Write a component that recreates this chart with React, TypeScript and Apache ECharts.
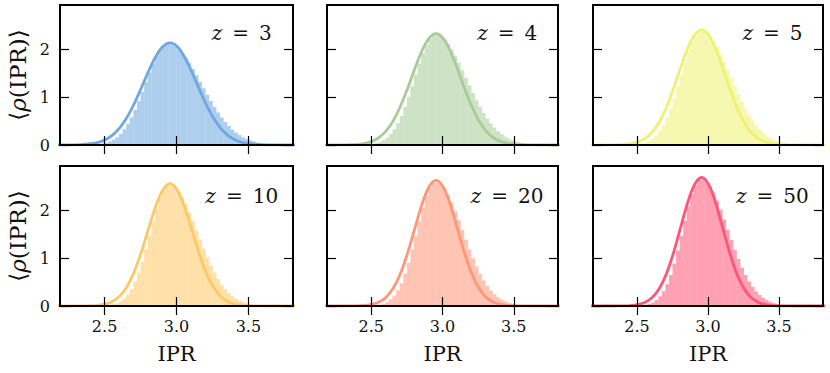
import React, { useEffect, useRef } from 'react';
import * as echarts from 'echarts';

// ---- data ----
const Z_VALUES = [3, 4, 5, 10, 20, 50];
const X_TICKS = [2.5, 3.0, 3.5];
const Y_TICKS = [0, 1, 2];

// Fitted curves sampled at x = 2.155, 2.205, ..., 3.855 (step 0.05)
const CURVE_X0 = 2.155;
const CURVE_STEP = 0.05;
const CURVE_Z3 = [0, 0.001, 0.002, 0.004, 0.011, 0.026, 0.056, 0.111, 0.206, 0.356, 0.572, 0.855, 1.188, 1.533, 1.84, 2.053, 2.13, 2.053, 1.84, 1.533, 1.188, 0.855, 0.572, 0.356, 0.206, 0.111, 0.056, 0.026, 0.011, 0.004, 0.002, 0.001, 0, 0, 0];
const CURVE_Z4 = [0, 0, 0.001, 0.002, 0.005, 0.014, 0.034, 0.076, 0.155, 0.293, 0.507, 0.807, 1.18, 1.586, 1.959, 2.224, 2.32, 2.224, 1.959, 1.586, 1.18, 0.807, 0.507, 0.293, 0.155, 0.076, 0.034, 0.014, 0.005, 0.002, 0.001, 0, 0, 0, 0];
const CURVE_Z5 = [0, 0, 0, 0.001, 0.004, 0.01, 0.026, 0.061, 0.132, 0.26, 0.469, 0.772, 1.161, 1.596, 2.002, 2.294, 2.4, 2.294, 2.002, 1.596, 1.161, 0.772, 0.469, 0.26, 0.132, 0.061, 0.026, 0.01, 0.004, 0.001, 0, 0, 0, 0, 0];
const CURVE_Z10 = [0, 0, 0, 0, 0.002, 0.005, 0.015, 0.04, 0.095, 0.206, 0.401, 0.706, 1.121, 1.606, 2.077, 2.422, 2.55, 2.422, 2.077, 1.606, 1.121, 0.706, 0.401, 0.206, 0.095, 0.04, 0.015, 0.005, 0.002, 0, 0, 0, 0, 0, 0];
const CURVE_Z20 = [0, 0, 0, 0, 0.001, 0.004, 0.012, 0.033, 0.082, 0.185, 0.374, 0.677, 1.102, 1.61, 2.11, 2.482, 2.62, 2.482, 2.11, 1.61, 1.102, 0.677, 0.374, 0.185, 0.082, 0.033, 0.012, 0.004, 0.001, 0, 0, 0, 0, 0, 0];
const CURVE_Z50 = [0, 0, 0, 0, 0.001, 0.003, 0.01, 0.028, 0.073, 0.17, 0.353, 0.656, 1.089, 1.615, 2.139, 2.533, 2.68, 2.533, 2.139, 1.615, 1.089, 0.656, 0.353, 0.17, 0.073, 0.028, 0.01, 0.003, 0.001, 0, 0, 0, 0, 0, 0];

// Histograms: bins of width 0.025 starting at 2.45
const BIN_START = 2.45;
const BIN_WIDTH = 0.025;
const HIST_Z3 = [0.02, 0.032, 0.05, 0.076, 0.113, 0.163, 0.23, 0.328, 0.441, 0.576, 0.735, 0.915, 1.11, 1.31, 1.511, 1.697, 1.86, 1.987, 2.069, 2.101, 2.091, 2.058, 2.0, 1.922, 1.826, 1.714, 1.59, 1.458, 1.321, 1.183, 1.047, 0.917, 0.793, 0.678, 0.572, 0.478, 0.394, 0.322, 0.259, 0.207, 0.162, 0.126, 0.097, 0.072, 0.054, 0.04, 0.029, 0.021, 0.015, 0.011];
const HIST_Z4 = [0.009, 0.015, 0.025, 0.041, 0.066, 0.102, 0.154, 0.233, 0.33, 0.456, 0.611, 0.795, 1.005, 1.233, 1.47, 1.701, 1.912, 2.087, 2.212, 2.278, 2.282, 2.252, 2.192, 2.104, 1.993, 1.864, 1.718, 1.563, 1.402, 1.242, 1.085, 0.935, 0.795, 0.667, 0.552, 0.45, 0.363, 0.289, 0.226, 0.175, 0.134, 0.097, 0.072, 0.053, 0.038, 0.027, 0.019, 0.013, 0.009, 0.006];
const HIST_Z5 = [0.006, 0.011, 0.019, 0.032, 0.053, 0.084, 0.131, 0.204, 0.297, 0.419, 0.573, 0.761, 0.978, 1.218, 1.471, 1.721, 1.951, 2.145, 2.283, 2.356, 2.361, 2.327, 2.26, 2.164, 2.042, 1.899, 1.741, 1.572, 1.4, 1.229, 1.062, 0.906, 0.761, 0.63, 0.514, 0.414, 0.328, 0.256, 0.198, 0.15, 0.112, 0.08, 0.058, 0.042, 0.029, 0.02, 0.014, 0.009, 0.006, 0.004];
const HIST_Z10 = [0.003, 0.006, 0.011, 0.019, 0.034, 0.058, 0.095, 0.156, 0.239, 0.354, 0.505, 0.696, 0.924, 1.186, 1.468, 1.753, 2.021, 2.249, 2.415, 2.502, 2.508, 2.467, 2.387, 2.272, 2.128, 1.96, 1.776, 1.583, 1.388, 1.196, 1.015, 0.848, 0.696, 0.562, 0.446, 0.349, 0.268, 0.203, 0.151, 0.111, 0.077, 0.054, 0.038, 0.026, 0.017, 0.012, 0.008, 0.005, 0.003, 0.002];
const HIST_Z20 = [0.002, 0.004, 0.008, 0.015, 0.028, 0.049, 0.082, 0.139, 0.217, 0.327, 0.476, 0.668, 0.9, 1.171, 1.466, 1.767, 2.052, 2.297, 2.475, 2.569, 2.576, 2.532, 2.446, 2.322, 2.166, 1.986, 1.791, 1.587, 1.381, 1.182, 0.994, 0.822, 0.668, 0.533, 0.418, 0.322, 0.244, 0.182, 0.134, 0.096, 0.066, 0.046, 0.031, 0.021, 0.014, 0.009, 0.006, 0.004, 0.002, 0.001];
const HIST_Z50 = [0.002, 0.003, 0.007, 0.013, 0.024, 0.042, 0.073, 0.125, 0.201, 0.308, 0.455, 0.646, 0.883, 1.159, 1.465, 1.779, 2.079, 2.337, 2.527, 2.628, 2.634, 2.588, 2.495, 2.364, 2.199, 2.01, 1.805, 1.591, 1.378, 1.171, 0.978, 0.802, 0.646, 0.511, 0.397, 0.303, 0.228, 0.168, 0.121, 0.086, 0.058, 0.04, 0.027, 0.018, 0.011, 0.007, 0.005, 0.003, 0.002, 0.001];

const CURVES = [CURVE_Z3, CURVE_Z4, CURVE_Z5, CURVE_Z10, CURVE_Z20, CURVE_Z50];
const HISTS = [HIST_Z3, HIST_Z4, HIST_Z5, HIST_Z10, HIST_Z20, HIST_Z50];
const LINE_COLORS = ['#6fa8e0', '#a8cc98', '#eef26e', '#ffc864', '#ff9678', '#ff5578'];

// ---- layout ----
const X_MIN = 2.19;
const X_MAX = 3.81;
const Y_MAX = 2.92;
const COLS = [
  { left: 60, width: 233 },
  { left: 327, width: 231 },
  { left: 593, width: 230 },
];
const ROWS = [
  { top: 5, height: 140 },
  { top: 166, height: 140 },
];
const FONT = 'DejaVu Serif';

function blendWithWhite(hex: string, a: number) {
  const n = parseInt(hex.slice(1), 16);
  const ch = [(n >> 16) & 255, (n >> 8) & 255, n & 255].map((v) => Math.round(255 - a * (255 - v)));
  return `rgb(${ch[0]},${ch[1]},${ch[2]})`;
}

export default function App() {
  const ref = useRef<HTMLDivElement>(null);
  useEffect(() => {
    const chart = echarts.init(ref.current!, null, { renderer: 'svg' });
    const grid: any[] = [];
    const xAxis: any[] = [];
    const yAxis: any[] = [];
    const series: any[] = [];
    const graphic: any[] = [];

    const tickStyle = { color: '#000', width: 1.2 };
    for (let p = 0; p < 6; p++) {
      const r = Math.floor(p / 3);
      const c = p % 3;
      const g = { left: COLS[c].left, width: COLS[c].width, top: ROWS[r].top, height: ROWS[r].height };
      grid.push({ ...g, show: true, borderColor: '#000', borderWidth: 2, backgroundColor: 'transparent', z: 6 });
      const baseX = {
        gridIndex: p, type: 'value', min: X_MIN, max: X_MAX, z: 6,
        axisLine: { show: false }, splitLine: { show: false },
        axisTick: { show: true, inside: true, length: 9, customValues: X_TICKS, lineStyle: tickStyle },
      };
      xAxis.push({
        ...baseX, position: 'bottom',
        axisLabel: {
          show: r === 1, customValues: X_TICKS, margin: 12,
          formatter: (v: number) => v.toFixed(1),
          fontFamily: FONT, fontSize: 16, color: '#111',
        },
      });
      xAxis.push({ ...baseX, position: 'top', axisLabel: { show: false } });
      const baseY = {
        gridIndex: p, type: 'value', min: 0, max: Y_MAX, z: 6,
        axisLine: { show: false }, splitLine: { show: false },
        axisTick: { show: true, inside: true, length: 9, customValues: Y_TICKS, lineStyle: tickStyle },
      };
      yAxis.push({
        ...baseY, position: 'left',
        axisLabel: {
          show: c === 0, customValues: Y_TICKS, margin: 10,
          fontFamily: FONT, fontSize: 16, color: '#111',
        },
      });
      yAxis.push({ ...baseY, position: 'right', axisLabel: { show: false } });

      const color = LINE_COLORS[p];
      const fill = blendWithWhite(color, 0.56);
      const histData = HISTS[p].map((v, k) => [BIN_START + k * BIN_WIDTH, BIN_START + (k + 1) * BIN_WIDTH, v]);
      series.push({
        type: 'custom',
        xAxisIndex: 2 * p, yAxisIndex: 2 * p,
        z: 2,
        clip: true,
        data: histData,
        renderItem: (params: any, api: any) => {
          const a = api.coord([api.value(0), 0]);
          const b = api.coord([api.value(1), api.value(2)]);
          return {
            type: 'rect',
            shape: { x: a[0], y: b[1], width: b[0] - a[0] + 0.4, height: a[1] - b[1] },
            style: { fill },
          };
        },
      });
      series.push({
        type: 'line',
        xAxisIndex: 2 * p, yAxisIndex: 2 * p,
        z: 3,
        data: CURVES[p].map((v, i) => [CURVE_X0 + i * CURVE_STEP, v]),
        smooth: 0.35,
        showSymbol: false,
        clip: true,
        lineStyle: { color, width: 2.8 },
      });

      graphic.push({
        type: 'text',
        x: g.left + 0.78 * g.width,
        y: g.top + (r === 0 ? 28 : 30),
        style: {
          text: `{i|z}\u2002=\u2002${Z_VALUES[p]}`,
          rich: { i: { fontStyle: 'italic', fontFamily: FONT, fontSize: 20, fill: '#111' } },
          fontFamily: FONT, fontSize: 20, fill: '#111',
          align: 'center', verticalAlign: 'middle',
        },
        z: 10,
      });
      if (r === 1) {
        graphic.push({
          type: 'text',
          x: g.left + g.width / 2,
          y: 354,
          style: { text: 'IPR', fontFamily: FONT, fontSize: 21, fill: '#111', align: 'center', verticalAlign: 'middle' },
          z: 10,
        });
      }
      if (c === 0) {
        graphic.push({
          type: 'text',
          x: 18,
          y: g.top + g.height / 2,
          rotation: Math.PI / 2,
          style: {
            text: '\u27e8{i|\u03c1}(IPR)\u27e9',
            rich: { i: { fontStyle: 'italic', fontFamily: FONT, fontSize: 23, fill: '#111' } },
            fontFamily: FONT, fontSize: 23, fill: '#111',
            align: 'center', verticalAlign: 'middle',
          },
          z: 10,
        });
      }
    }

    chart.setOption({
      animation: false,
      backgroundColor: '#fff',
      grid, xAxis, yAxis, series, graphic,
    });
    return () => chart.dispose();
  }, []);
  return <div ref={ref} style={{ position: 'fixed', left: 0, top: 0, width: 830, height: 373 }} />;
}
